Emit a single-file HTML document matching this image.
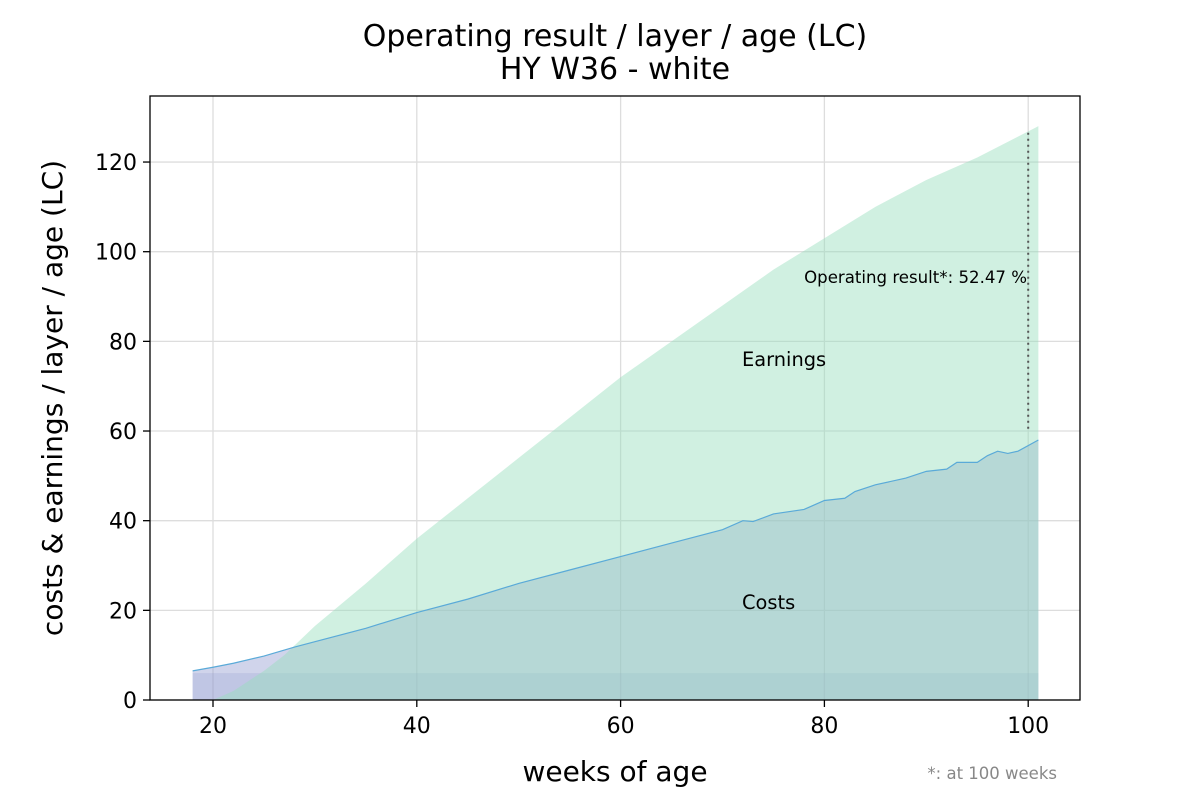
<!DOCTYPE html>
<html><head><meta charset="utf-8"><style>
body{margin:0;background:#fff;font-family:"Liberation Sans","DejaVu Sans",sans-serif}
svg text{font-family:"DejaVu Sans","Liberation Sans",sans-serif}
</style></head><body>
<svg id="chart" width="1200" height="800" xmlns="http://www.w3.org/2000/svg">
<rect width="1200" height="800" fill="#fff"/>
<g id="grid"></g>
<g id="areas"></g>
<g id="ticks"></g>
<rect x="150" y="96" width="930" height="604" fill="none" stroke="#000" stroke-width="1.3"/>
<text x="615" y="46" font-size="30" text-anchor="middle">Operating result / layer / age (LC)</text>
<text x="615" y="79" font-size="30" text-anchor="middle">HY W36 - white</text>
<text x="615" y="781" font-size="28" text-anchor="middle">weeks of age</text>
<text transform="translate(62,398) rotate(-90)" font-size="28" text-anchor="middle">costs &amp; earnings / layer / age (LC)</text>
<text x="1027" y="283" font-size="16.6" text-anchor="end">Operating result*: 52.47 %</text>
<text x="742" y="366" font-size="19.4">Earnings</text>
<text x="742" y="609" font-size="19.4">Costs</text>
<text x="1057" y="779" font-size="16.5" fill="#888" text-anchor="end">*: at 100 weeks</text>
</svg>
<script>
const xTicks=[20,40,60,80,100];
const yTicks=[0,20,40,60,80,100,120];
const costWeeks=[18,20,22,25,28,30,35,40,45,50,55,60,65,70,72,73,75,78,80,82,83,85,88,90,92,93,95,96,97,98,99,101];
const costValues=[6.5,7.3,8.2,9.8,11.8,13,16,19.5,22.5,26,29,32,35,38,40,39.8,41.5,42.5,44.5,45,46.5,48,49.5,51,51.5,53,53,54.5,55.5,55,55.5,58];
const earnWeeks=[20,22,25,27,30,35,40,45,50,55,60,65,70,75,80,85,90,95,101];
const earnValues=[0,2,6.5,10,16.5,26,36,45,54,63,72,80,88,96,103,110,116,121,128];
const baseCost=6;
const resultWeek=100, resultLow=60.5, resultHigh=127;
const X=w=>213+(w-20)*10.19;
const Y=v=>700-v*4.483;
const NS="http://www.w3.org/2000/svg";
function mk(tag,attrs,parent){const e=document.createElementNS(NS,tag);for(const k in attrs)e.setAttribute(k,attrs[k]);parent.appendChild(e);return e;}
const grid=document.getElementById('grid'),areas=document.getElementById('areas'),ticks=document.getElementById('ticks');
xTicks.forEach(t=>{
 const g=mk('line',{x1:X(t),x2:X(t),y1:96,y2:700,stroke:'#ddd','stroke-width':1.3},grid);
 
 
 const tk=mk('line',{x1:X(t),x2:X(t),y1:700,y2:707,stroke:'#000','stroke-width':1.3},ticks);
 
 
 const tx=mk('text',{x:X(t),y:733,'font-size':22,'text-anchor':'middle'},ticks);tx.textContent=t;
 
 
});
yTicks.forEach(t=>{
 const g=mk('line',{x1:150,x2:1080,y1:Y(t),y2:Y(t),stroke:'#ddd','stroke-width':1.3},grid);
 
 
 const tk=mk('line',{x1:143,x2:150,y1:Y(t),y2:Y(t),stroke:'#000','stroke-width':1.3},ticks);
 
 
 const tx=mk('text',{x:137,y:Y(t)+8,'font-size':22,'text-anchor':'end'},ticks);tx.textContent=t;
 
 
});
const cw0=costWeeks[0],cw1=costWeeks[costWeeks.length-1];
const base=mk('rect',{x:X(cw0),y:Y(baseCost),width:X(cw1)-X(cw0),height:Y(0)-Y(baseCost),fill:'rgba(140,150,205,0.25)'},areas);


let d='M'+X(cw0)+','+Y(0)+costWeeks.map((w,i)=>' L'+X(w)+','+Y(costValues[i])).join('')+' L'+X(cw1)+','+Y(0)+'Z';
const ca=mk('path',{d:d,fill:'rgba(150,160,210,0.45)'},areas);


const ew0=earnWeeks[0],ew1=earnWeeks[earnWeeks.length-1];
d='M'+X(ew0)+','+Y(0)+earnWeeks.map((w,i)=>' L'+X(w)+','+Y(earnValues[i])).join('')+' L'+X(ew1)+','+Y(0)+'Z';
const ea=mk('path',{d:d,fill:'rgba(150,222,188,0.45)'},areas);


const cl=mk('polyline',{points:costWeeks.map((w,i)=>X(w)+','+Y(costValues[i])).join(' '),fill:'none',stroke:'#5aaad8','stroke-width':1.2},areas);


const rl=mk('line',{x1:X(resultWeek),x2:X(resultWeek),y1:Y(resultLow),y2:Y(resultHigh),stroke:'#555','stroke-width':2,'stroke-dasharray':'2,4'},areas);


</script>
</body></html>
